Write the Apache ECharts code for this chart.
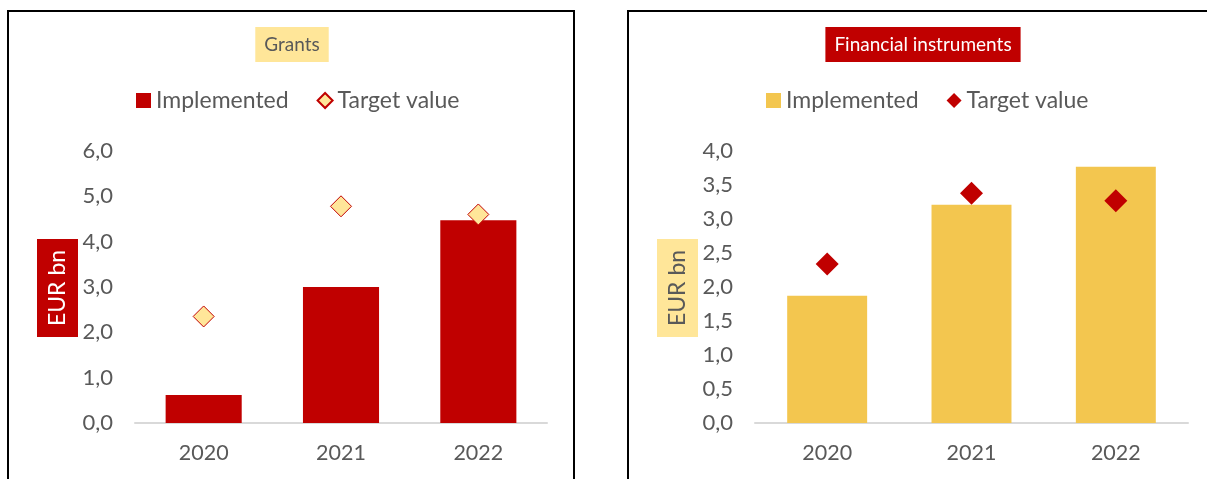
<!DOCTYPE html>
<html>
<head>
<meta charset="utf-8">
<script src="https://cdn.jsdelivr.net/npm/echarts@6/dist/echarts.min.js"></script>
<style>
  html, body { margin: 0; padding: 0; width: 1207px; height: 479px; overflow: hidden; background: #fff; }
  #frameA { position: absolute; left: 7px; top: 10px; width: 568px; height: 500px; border: 2px solid #000; box-sizing: border-box; }
  #frameB { position: absolute; left: 627px; top: 10px; width: 700px; height: 500px; border-left: 2px solid #000; border-top: 2px solid #000; box-sizing: border-box; }
  #chartA { position: absolute; left: 0; top: 0; width: 584px; height: 479px; }
  #chartB { position: absolute; left: 610px; top: 0; width: 626px; height: 479px; }
</style>
</head>
<body>
<div id="frameA"></div>
<div id="frameB"></div>
<div id="chartA"></div>
<div id="chartB"></div>
<script>
// ---- data ----
const categories = ['2020', '2021', '2022'];
const grantsImplemented = [0.62, 3.0, 4.47];
const grantsTarget = [2.35, 4.78, 4.6];
const fiImplemented = [1.87, 3.21, 3.77];
const fiTarget = [2.34, 3.38, 3.27];
const grantsTicks = { min: 0, max: 6, interval: 1 };
const fiTicks = { min: 0, max: 4, interval: 0.5 };
const seriesNames = ['Implemented', 'Target value'];

const FONT = 'Lato';
const GREY = '#595959';
const RED = '#C00000';
const LIGHT = '#FFE699';
const GOLD = '#F3C64F';

function fmt(v) { return v.toFixed(1).replace('.', ','); }

function build(cfg) {
  return {
    animation: false,
    textStyle: { fontFamily: FONT },
    title: {
      text: cfg.title,
      left: 'center',
      top: 27,
      padding: [7, 9],
      backgroundColor: cfg.titleBg,
      textStyle: { fontFamily: FONT, fontSize: 19, fontWeight: 'normal', color: cfg.titleColor, lineHeight: 21 }
    },
    legend: {
      left: cfg.legendLeft,
      top: 84,
      itemGap: 28,
      itemWidth: 15,
      itemHeight: 15,
      textStyle: { fontFamily: FONT, fontSize: 23, color: GREY },
      data: [
        { name: seriesNames[0], icon: 'rect' },
        { name: seriesNames[1], icon: 'diamond' }
      ]
    },
    grid: { left: cfg.gridLeft, width: cfg.gridWidth, top: 151, height: 272 },
    xAxis: {
      type: 'category',
      data: categories,
      axisLine: { lineStyle: { color: '#D9D9D9', width: 2 } },
      axisTick: { show: false },
      axisLabel: { fontFamily: FONT, fontSize: 21.5, color: GREY, margin: 19 }
    },
    yAxis: {
      type: 'value',
      min: cfg.ticks.min, max: cfg.ticks.max, interval: cfg.ticks.interval,
      axisLine: { show: false },
      axisTick: { show: false },
      splitLine: { show: false },
      axisLabel: { fontFamily: FONT, fontSize: 22, color: GREY, margin: 22, formatter: fmt }
    },
    graphic: [{
      type: 'text',
      x: cfg.nameX,
      y: 288,
      rotation: Math.PI / 2,
      style: {
        text: 'EUR bn',
        font: '23px ' + FONT,
        fill: cfg.nameColor,
        backgroundColor: cfg.nameBg,
        padding: [8, 11],
        lineHeight: 25,
        align: 'center',
        verticalAlign: 'middle'
      }
    }],
    series: [
      {
        name: seriesNames[0],
        type: 'bar',
        data: cfg.bars,
        barWidth: '55.4%',
        itemStyle: { color: cfg.barColor }
      },
      {
        name: seriesNames[1],
        type: 'scatter',
        data: cfg.targets,
        symbol: 'diamond',
        symbolSize: cfg.symSize,
        itemStyle: Object.assign({ opacity: 1 }, cfg.symStyle),
        z: 5
      }
    ]
  };
}

const chartA = echarts.init(document.getElementById('chartA'), null, { renderer: 'canvas' });
chartA.setOption(build({
  title: 'Grants', titleBg: LIGHT, titleColor: GREY,
  legendLeft: 131,
  gridLeft: 135, gridWidth: 412,
  ticks: grantsTicks,
  nameX: 57.5, nameColor: '#FFFFFF', nameBg: RED,
  bars: grantsImplemented, targets: grantsTarget, barColor: RED,
  symSize: 21, symStyle: { color: LIGHT, borderColor: RED, borderWidth: 1 }
}));

const chartB = echarts.init(document.getElementById('chartB'), null, { renderer: 'canvas' });
chartB.setOption(build({
  title: 'Financial instruments', titleBg: RED, titleColor: '#FFFFFF',
  legendLeft: 151,
  gridLeft: 145, gridWidth: 433,
  ticks: fiTicks,
  nameX: 67.5, nameColor: GREY, nameBg: LIGHT,
  bars: fiImplemented, targets: fiTarget, barColor: GOLD,
  symSize: 23, symStyle: { color: RED }
}));
</script>
</body>
</html>
